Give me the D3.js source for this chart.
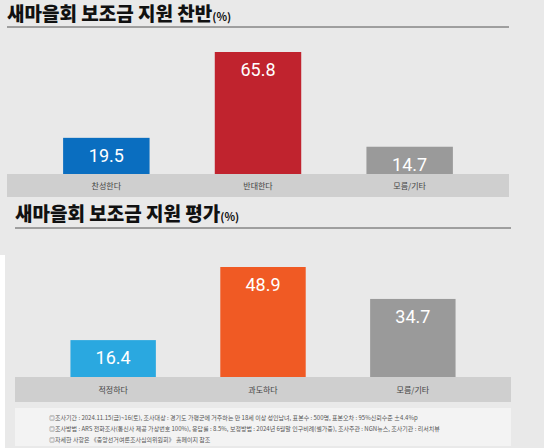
<!DOCTYPE html>
<html><head><meta charset="utf-8">
<script src="https://cdn.jsdelivr.net/npm/d3@7"></script>
<style>body{margin:0;background:#fff}svg{display:block}</style>
</head><body><svg id="c" width="544" height="448"></svg>
<script>
// data
const cats1 = ['찬성한다', '반대한다', '모름/기타'];
const vals1 = [19.5, 65.8, 14.7];
const cols1 = ['#0a6ec0', '#c0232e', '#9a9a9a'];
const cats2 = ['적정하다', '과도하다', '모름/기타'];
const vals2 = [16.4, 48.9, 34.7];
const cols2 = ['#2aa8e0', '#f05a24', '#9a9a9a'];
const notes = [
  '◎조사기간 : 2024.11.15(금)~16(토), 조사대상 : 경기도 가평군에 거주하는 만 18세 이상 성인남녀, 표본수 : 500명, 표본오차 : 95%신뢰수준 ±4.4%p',
  '◎조사방법 : ARS 전화조사(통신사 제공 가상번호 100%), 응답률 : 8.5%, 보정방법 : 2024년 6월말 인구비례(셀가중), 조사주관 : NGN뉴스, 조사기관 : 리서치뷰',
  '◎자세한 사항은 《중앙선거여론조사심의위원회》 홈페이지 참조'
];

const svg = d3.select('#c');
const font = "'Noto Sans CJK KR', sans-serif";
svg.append('rect').attr('width', 544).attr('height', 448).attr('fill', '#e9e9e9');
svg.append('rect').attr('x', 0).attr('y', 255).attr('width', 5).attr('height', 193).attr('fill', '#fff');

function panel(o) {
  const g = svg.append('g');
  const t = g.append('text').attr('x', o.x0).attr('y', o.titleY)
    .attr('font-family', font).attr('font-weight', 900).attr('font-size', 19).attr('fill', '#111')
    .text(o.title);
  t.append('tspan').attr('font-size', 11).attr('font-weight', 700).text('(%)');
  g.append('line').attr('x1', o.x0).attr('x2', o.x1).attr('y1', o.ruleY).attr('y2', o.ruleY)
    .attr('stroke', '#555').attr('stroke-width', 1);
  g.append('rect').attr('x', o.x0).attr('y', o.baseY).attr('width', o.x1 - o.x0).attr('height', o.bandH)
    .attr('fill', '#cfcfcf');

  const x = d3.scaleBand().domain(o.cats).range([o.x0, o.x1]).paddingInner(0.43).paddingOuter(0.37);
  const y = d3.scaleLinear().domain([0, o.max]).range([o.baseY, o.topY]);

  const bars = g.selectAll('g.bar').data(o.vals).enter().append('g');
  bars.append('rect')
    .attr('x', (d, i) => x(o.cats[i])).attr('width', x.bandwidth())
    .attr('y', d => y(d)).attr('height', d => o.baseY - y(d))
    .attr('fill', (d, i) => o.cols[i]);
  bars.append('text')
    .attr('x', (d, i) => x(o.cats[i]) + x.bandwidth() / 2).attr('y', d => y(d) + 24)
    .attr('text-anchor', 'middle').attr('font-family', 'Roboto, sans-serif').attr('font-size', 18)
    .attr('fill', '#fff').text(d => d.toFixed(1));
  g.selectAll('text.cat').data(o.cats).enter().append('text')
    .attr('x', d => x(d) + x.bandwidth() / 2).attr('y', o.baseY + o.bandH / 2 + 3)
    .attr('text-anchor', 'middle').attr('font-family', font).attr('font-size', 8).attr('fill', '#444')
    .text(d => d);
}

panel({title: '새마을회 보조금 지원 찬반', cats: cats1, vals: vals1, cols: cols1,
  x0: 7, x1: 509, titleY: 21, ruleY: 27, baseY: 174, bandH: 23, topY: 52, max: 65.8});
panel({title: '새마을회 보조금 지원 평가', cats: cats2, vals: vals2, cols: cols2,
  x0: 15, x1: 511, titleY: 221, ruleY: 228, baseY: 377, bandH: 25, topY: 267, max: 48.9});

svg.append('rect').attr('x', 15).attr('y', 408).attr('width', 496).attr('height', 38).attr('fill', '#f3f3f3');
svg.selectAll('text.note').data(notes).enter().append('text')
  .attr('x', 49).attr('y', (d, i) => 420 + i * 11)
  .attr('font-family', font).attr('font-size', 6).attr('fill', '#555').text(d => d);
</script></body></html>
